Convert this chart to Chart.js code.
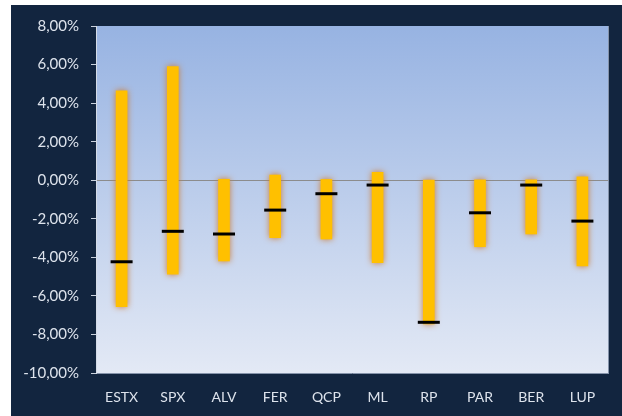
<!DOCTYPE html>
<html>
<head>
<meta charset="utf-8">
<script src="https://cdn.jsdelivr.net/npm/chart.js@4"></script>
<style>
  html, body { margin: 0; padding: 0; background: #fff; }
  #frame { position: absolute; left: 11px; top: 5px; width: 611px; height: 411px; background: #12253f; }
</style>
</head>
<body>
<div id="frame"><canvas id="chart" width="611" height="411"></canvas></div>
<script>
// Range bars (low..high) with a black marker for the current value
const categories = ['ESTX', 'SPX', 'ALV', 'FER', 'QCP', 'ML', 'RP', 'PAR', 'BER', 'LUP'];
const rangeLow  = [-6.56, -4.87, -4.19, -2.98, -3.05, -4.28, -7.45, -3.45, -2.79, -4.45];
const rangeHigh = [ 4.64,  5.89,  0.05,  0.27,  0.04,  0.41,  0.01,  0.02,  0.02,  0.18];
const current   = [-4.23, -2.65, -2.79, -1.55, -0.70, -0.25, -7.37, -1.69, -0.25, -2.12];
const yTicks = { min: -10, max: 8, step: 2 };

const fontFamily = 'Lato, "Liberation Sans", sans-serif';
const tickColor = '#dde3ec';

// gradient plot background + right border, soft glow round the range bars
const plotBg = {
  id: 'plotBg',
  beforeDraw(chart) {
    const { ctx, chartArea: a } = chart;
    const g = ctx.createLinearGradient(0, a.top, 0, a.bottom);
    g.addColorStop(0, '#97b3e2');
    g.addColorStop(1, '#e3e9f5');
    ctx.save();
    ctx.fillStyle = g;
    ctx.fillRect(a.left, a.top, a.right - a.left, a.bottom - a.top);
    ctx.strokeStyle = '#8593aa';
    ctx.lineWidth = 1;
    ctx.beginPath();
    ctx.moveTo(a.right + 0.5, a.top);
    ctx.lineTo(a.right + 0.5, a.bottom);
    ctx.stroke();
    ctx.restore();
  },
  beforeDatasetDraw(chart, args) {
    if (args.index !== 0) return;
    const ctx = chart.ctx;
    ctx.save();
    ctx.shadowColor = 'rgba(205,125,55,1)';
    ctx.shadowBlur = 6;
  },
  afterDatasetDraw(chart, args) {
    if (args.index !== 0) return;
    chart.ctx.restore();
  }
};

new Chart(document.getElementById('chart'), {
  type: 'bar',
  data: {
    labels: categories,
    datasets: [
      {
        type: 'bar',
        data: rangeLow.map((lo, i) => [lo, rangeHigh[i]]),
        backgroundColor: '#ffc000',
        borderWidth: 0,
        barThickness: 11,
        order: 2,
      },
      {
        type: 'line',
        data: current,
        showLine: false,
        pointStyle: 'line',
        pointRadius: 11,
        pointBorderWidth: 3,
        pointBorderColor: '#000',
        pointBackgroundColor: '#000',
        order: 1,
      },
    ],
  },
  options: {
    responsive: false,
    animation: false,
    layout: { padding: { top: 21, right: 7, left: 0, bottom: 0 } },
    plugins: { legend: { display: false }, tooltip: { enabled: false } },
    scales: {
      x: {
        afterFit(s) { s.height = 43; },
        grid: { display: false, drawTicks: false },
        border: { display: true, color: '#8593aa' },
        ticks: { color: tickColor, padding: 16, font: { family: fontFamily, size: 14 } },
      },
      y: {
        min: yTicks.min,
        max: yTicks.max,
        afterFit(s) { s.width = 85; },
        ticks: {
          stepSize: yTicks.step,
          color: tickColor,
          padding: 12,
          font: { family: fontFamily, size: 15 },
          callback: v => v.toFixed(2).replace('.', ',') + '%',
        },
        grid: {
          tickLength: 5,
          tickColor: '#c9d1dd',
          color: ctx => (ctx.tick && ctx.tick.value === 0 ? '#8c8c8c' : 'rgba(0,0,0,0)'),
        },
        border: { display: true, color: '#d4dbe6' },
      },
    },
  },
  plugins: [plotBg],
});
</script>
</body>
</html>
